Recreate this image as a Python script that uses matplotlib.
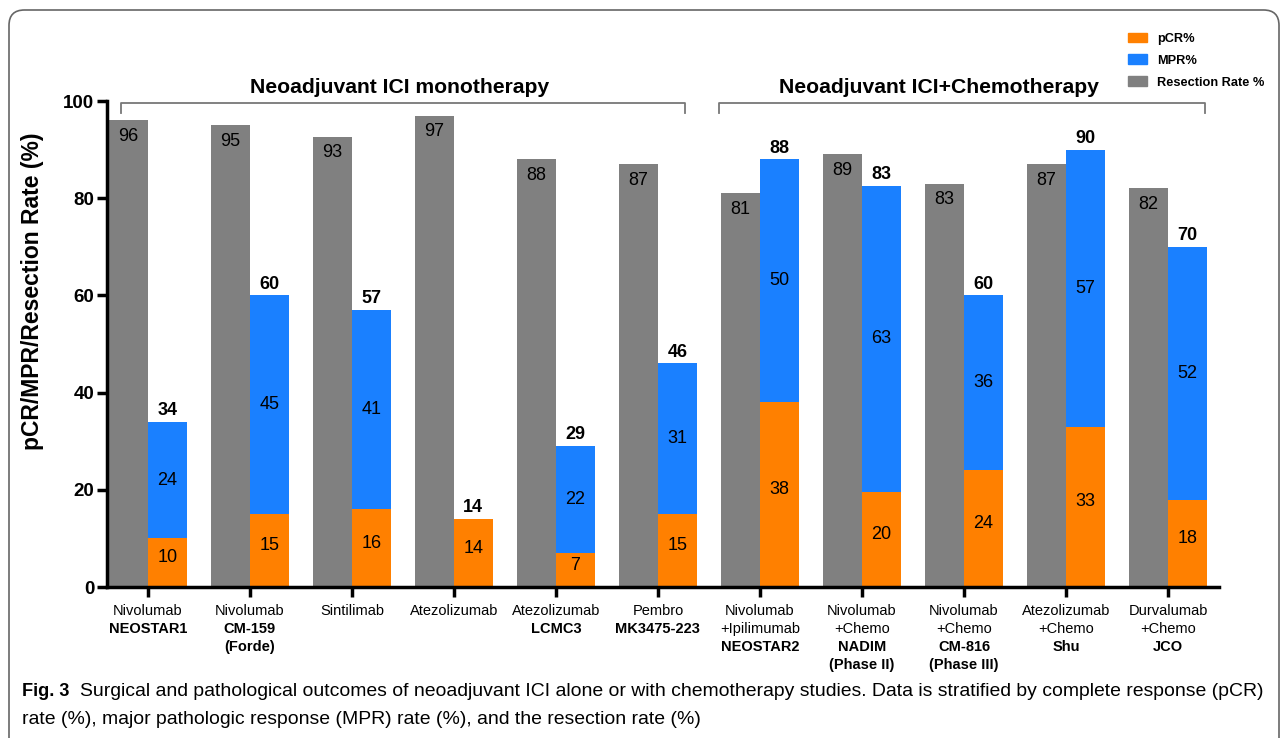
import matplotlib
matplotlib.use("Agg")
import matplotlib.pyplot as plt
from matplotlib.patches import FancyBboxPatch, Patch
import numpy as np

plt.rcParams['font.family'] = ['Liberation Sans', 'DejaVu Sans']

# ---- data ----
drug_lines = ["Nivolumab", "Nivolumab", "Sintilimab", "Atezolizumab", "Atezolizumab",
              "Pembro", "Nivolumab\n+Ipilimumab", "Nivolumab\n+Chemo", "Nivolumab\n+Chemo",
              "Atezolizumab\n+Chemo", "Durvalumab\n+Chemo"]
study_names = ["NEOSTAR1", "CM-159\n(Forde)", "", "", "LCMC3", "MK3475-223",
               "NEOSTAR2", "NADIM\n(Phase II)", "CM-816\n(Phase III)", "Shu", "JCO"]
resection = [96, 95, 92.6, 97, 88, 87, 81, 89, 83, 87, 82]
pcr = [10, 15, 16, 14, 7, 15, 38, 19.6, 24, 33, 18]
mpr = [34, 60, 57, 14, 29, 46, 88, 82.6, 60, 90, 70]
groups = ["Neoadjuvant ICI monotherapy", "Neoadjuvant ICI+Chemotherapy"]
legend_labels = ["pCR%", "MPR%", "Resection Rate %"]
caption_bold = "Fig. 3"
caption_1 = ("Surgical and pathological outcomes of neoadjuvant ICI alone or with chemotherapy "
             "studies. Data is stratified by complete response (pCR)")
caption_2 = "rate (%), major pathologic response (MPR) rate (%), and the resection rate (%)"

c_orange = "#FF8000"
c_blue = "#1A80FF"
c_gray = "#808080"

fig = plt.figure(figsize=(12.85, 7.38), dpi=100)
ax = fig.add_axes([107/1285, 1-587/738, (1219-107)/1285, (587-101)/738])

x = np.arange(len(resection))
w = 0.38
pcr_a = np.array(pcr)
mpr_a = np.array(mpr)
blue = mpr_a - pcr_a

ax.bar(x - w/2, resection, w, color=c_gray, zorder=2)
ax.bar(x + w/2, pcr_a, w, color=c_orange, zorder=2)
ax.bar(x + w/2, blue, w, bottom=pcr_a, color=c_blue, zorder=2)

vfs = 13
for i in range(len(x)):
    ax.annotate(f"{round(resection[i])}", (x[i] - w/2, resection[i]), xytext=(0, -11.5),
                textcoords="offset points", ha="center", va="center", fontsize=vfs)
    ax.text(x[i] + w/2, pcr_a[i]/2 + 1.0, f"{round(pcr_a[i])}", ha="center", va="center",
            fontsize=vfs)
    if blue[i] > 0.5:
        ax.text(x[i] + w/2, pcr_a[i] + blue[i]/2, f"{round(blue[i])}", ha="center",
                va="center", fontsize=vfs)
    ax.annotate(f"{round(mpr_a[i])}", (x[i] + w/2, mpr_a[i]), xytext=(0, 2.0),
                textcoords="offset points", ha="center", va="bottom", fontsize=vfs,
                fontweight="bold")

ax.set_xlim(-0.40, 10.5)
ax.set_ylim(0, 100)
ax.set_yticks([0, 20, 40, 60, 80, 100])
ax.set_yticklabels(["0", "20", "40", "60", "80", "100"], fontweight="bold", fontsize=13.5)
ax.set_xticks(x)
ax.set_xticklabels([])
ax.tick_params(axis="both", direction="out", width=2.5, length=7)
ax.tick_params(axis="y", pad=2)
for s in ["top", "right"]:
    ax.spines[s].set_visible(False)
for s in ["left", "bottom"]:
    ax.spines[s].set_linewidth(2.5)
ax.set_ylabel("pCR/MPR/Resection Rate (%)", fontsize=16.5, fontweight="bold")
ax.yaxis.set_label_coords((44 - 107)/1112, (587 - 291)/486)

# x tick labels: regular drug lines then bold study lines
for i in range(len(x)):
    lines = [(l, "normal") for l in drug_lines[i].split("\n")]
    if study_names[i]:
        lines += [(l, "bold") for l in study_names[i].split("\n")]
    for j, (t, fw) in enumerate(lines):
        ax.annotate(t, (x[i], 0), xycoords=("data", "axes fraction"),
                    xytext=(0, -(24 + 18*j)*0.72), textcoords="offset points",
                    ha="center", va="center", fontsize=10.5, fontweight=fw)

# group brackets
brackets = [(-0.258, 5.27), (5.595, 10.36)]
title_x = [2.47, 7.755]
for (a, b), g, tx in zip(brackets, groups, title_x):
    ax.plot([a, a, b, b], [97.6, 99.6, 99.6, 97.6], color="#777777", lw=1.3,
            clip_on=False, zorder=3)
    ax.text(tx, 102.7, g, ha="center", va="center", fontsize=15.2,
            fontweight="bold")

# legend
handles = [Patch(color=c) for c in [c_orange, c_blue, c_gray]]
fig.legend(handles, legend_labels, loc="upper left", bbox_to_anchor=(1116/1285, 1-21/738),
           frameon=False, handlelength=1.5, handleheight=0.8,
           labelspacing=0.75, handletextpad=0.8,
           prop={"weight": "bold", "size": 9.2})

# caption (fit widths to the reference layout)
renderer = fig.canvas.get_renderer()


def fit_text(xp, yp, s, target_w, fw="normal", base=11.5):
    t = fig.text(xp/1285, 1-yp/738, s, fontsize=base, va="center", ha="left",
                 fontweight=fw)
    wpx = t.get_window_extent(renderer).width
    t.set_fontsize(base*target_w/wpx)
    return t


fit_text(22, 692, caption_bold, 48, fw="bold")
t1 = fit_text(80, 692, caption_1, 1262 - 80)
fs = t1.get_fontsize()
fig.text(22/1285, 1-719/738, caption_2, fontsize=fs, va="center", ha="left")

# border
border = FancyBboxPatch((9/1285, -20/738), (1279-9)/1285, (738-10+20)/738,
                        boxstyle="round,pad=0,rounding_size=0.012",
                        transform=fig.transFigure, fill=False, edgecolor="#666666",
                        lw=1.2, mutation_aspect=1285/738)
fig.patches.append(border)

fig.savefig("out.png", dpi=100)
